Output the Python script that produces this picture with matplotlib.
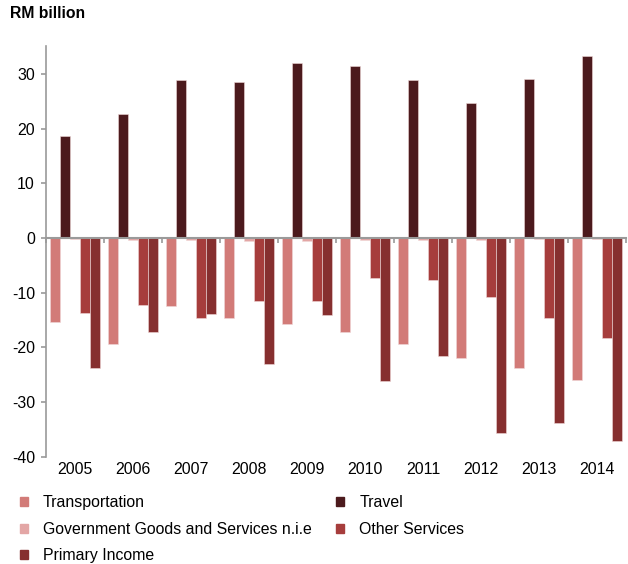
import matplotlib
matplotlib.use("Agg")
import matplotlib.pyplot as plt
import numpy as np
from matplotlib.patches import Patch

plt.rcParams['font.family'] = ['Liberation Sans', 'DejaVu Sans']

years = ['2005', '2006', '2007', '2008', '2009', '2010', '2011', '2012', '2013', '2014']
transportation = [-15.4, -19.3, -12.5, -14.7, -15.8, -17.1, -19.3, -22.0, -23.8, -26.0]
travel = [18.6, 22.6, 28.9, 28.5, 32.0, 31.5, 28.8, 24.7, 29.0, 33.3]
government = [-0.2, -0.4, -0.3, -0.6, -0.6, -0.4, -0.4, -0.3, -0.1, -0.1]
other_services = [-13.7, -12.3, -14.7, -11.5, -11.5, -7.4, -7.6, -10.8, -14.6, -18.2]
primary_income = [-23.8, -17.2, -13.9, -23.0, -14.1, -26.1, -21.5, -35.7, -33.9, -37.2]

series = [
    ('Transportation', transportation, '#D27B78'),
    ('Travel', travel, '#4C1A1D'),
    ('Government Goods and Services n.i.e', government, '#E3A6A5'),
    ('Other Services', other_services, '#A63D3C'),
    ('Primary Income', primary_income, '#862F2F'),
]

fs = 11.4

fig = plt.figure(figsize=(6.28, 5.64), dpi=100)
ax = fig.add_axes([46/628, 1-456.8/564, 580/628, (456.8-46.5)/564])

x = np.arange(len(years))
bw = 0.172
n = len(series)
for i, (name, vals, col) in enumerate(series):
    offs = (i - (n-1)/2) * bw
    ax.bar(x + offs, vals, width=bw, color=col, edgecolor='#f0d8d8', linewidth=0.4, label=name, zorder=2)

ax.set_xlim(-0.5, len(years) - 0.5)
ax.set_ylim(-40, 35)
ax.set_yticks([-40, -30, -20, -10, 0, 10, 20, 30])
ax.set_yticklabels(['-40', '-30', '-20', '-10', '0', '10', '20', '30'])

gray = '#9a9a9a'
for s in ['top', 'right']:
    ax.spines[s].set_visible(False)
ax.spines['left'].set_color(gray)
ax.spines['left'].set_linewidth(1.2)
ax.spines['bottom'].set_position(('data', 0))
ax.spines['bottom'].set_color(gray)
ax.spines['bottom'].set_linewidth(1.5)
ax.spines['bottom'].set_zorder(3)

ax.set_xticks(np.arange(len(years) + 1) - 0.5)
ax.set_xticklabels([])
ax.tick_params(axis='x', direction='out', length=3.5, width=1.2, color=gray)
ax.tick_params(axis='y', direction='out', length=3.5, width=1.2, color=gray, labelsize=fs, pad=4.5)

sec = ax.secondary_xaxis('bottom')
sec.set_xticks(x)
sec.set_xticklabels(years)
sec.tick_params(length=0, labelsize=fs, pad=3.5)
for s in sec.spines.values():
    s.set_visible(False)

fig.text(10/628, 1-14/564, 'RM billion', fontsize=11.3, fontweight='bold', va='center', ha='left')

handles = [Patch(color=c, label=nm) for nm, v, c in series]
order = [0, 2, 4, 1, 3]
leg = fig.legend([handles[i] for i in order], [series[i][0] for i in order],
                 ncol=2, loc='upper left', bbox_to_anchor=(20/628, 1-495/564),
                 frameon=False, fontsize=fs, handlelength=0.5, handleheight=0.5,
                 handletextpad=0.95, labelspacing=0.74, columnspacing=1.55,
                 borderaxespad=0, borderpad=0)

fig.savefig('out.png', dpi=100)
